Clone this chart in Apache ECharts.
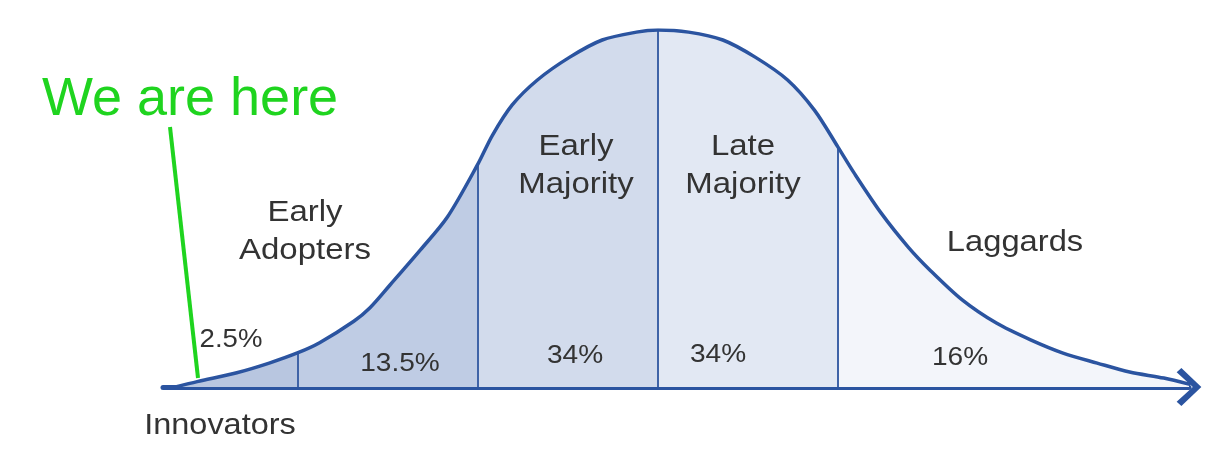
<!DOCTYPE html>
<html>
<head>
<meta charset="utf-8">
<script src="https://cdn.jsdelivr.net/npm/echarts@6/dist/echarts.min.js"></script>
<style>
  html, body { margin: 0; padding: 0; background: #ffffff; }
  #chart { width: 1211px; height: 449px; }
</style>
</head>
<body>
<div id="chart"></div>
<script>
// Adoption curve, x in standard deviations from the mean, y as % of peak height
const curveX = [-2.68, -2.56, -2.34, -2.16, -2.0, -1.88, -1.69, -1.6, -1.49, -1.32, -1.17, -1.0, -0.92, -0.81, -0.67, -0.49, -0.31, -0.12, 0, 0.17, 0.36, 0.54, 0.72, 0.87, 1.0, 1.09, 1.24, 1.39, 1.51, 1.69, 1.88, 2.07, 2.25, 2.44, 2.62, 2.81, 2.95];
const curveY = [0, 1.5, 4.0, 6.7, 9.6, 12.4, 18.4, 22.2, 28.5, 38.4, 47.6, 62.5, 70.5, 79.0, 86.0, 92.4, 97.2, 99.4, 100, 99.4, 97.2, 92.4, 86.0, 77.5, 67.2, 59.9, 48.7, 39.2, 32.8, 24.4, 17.9, 13.2, 9.5, 6.7, 4.2, 2.5, 0.8];
const segments = ['Innovators', 'Early Adopters', 'Early Majority', 'Late Majority', 'Laggards'];
const shares = ['2.5%', '13.5%', '34%', '34%', '16%'];
const dividers = [-2, -1, 0, 1];

const FILLS = ['#b8c6e0', '#bfcce4', '#d2dbec', '#e2e8f3', '#f3f5fa'];
const LINE = '#2b54a0';
const DIV = '#3f63a7';
const TEXT = '#333333';
const FONT = '"Liberation Sans", Arial, Helvetica, sans-serif';

const pts = curveX.map((x, i) => [x, curveY[i]]);
const bounds = [curveX[0]].concat(dividers, [curveX[curveX.length - 1]]);

const series = [];
segments.forEach((name, i) => {
  const lo = bounds[i], hi = bounds[i + 1];
  series.push({
    name: name,
    type: 'line',
    data: pts.filter(p => p[0] >= lo - 1e-9 && p[0] <= hi + 1e-9),
    smooth: 0.3,
    showSymbol: false,
    silent: true,
    lineStyle: { width: 0 },
    areaStyle: { color: FILLS[i], opacity: 1 },
    z: 1
  });
});
dividers.forEach(d => {
  const idx = curveX.indexOf(d);
  series.push({
    type: 'line',
    data: [[d, 0], [d, curveY[idx]]],
    showSymbol: false,
    silent: true,
    lineStyle: { width: 2, color: DIV },
    z: 2
  });
});
series.push({
  name: 'Adoption',
  type: 'line',
  data: pts,
  smooth: 0.3,
  showSymbol: false,
  silent: true,
  lineStyle: { width: 3.5, color: LINE, cap: 'round' },
  z: 3
});

function label(text, x, y, size, sx) {
  return {
    type: 'text',
    x: x, y: y,
    scaleX: sx,
    z: 100,
    style: {
      text: text,
      x: 0, y: 0,
      font: size + 'px ' + FONT,
      fill: TEXT,
      align: 'center',
      verticalAlign: 'middle',
      lineHeight: 38
    }
  };
}

const graphics = [
  label(segments[1].replace(' ', '\n'), 305, 232, 30, 1.1),
  label(segments[2].replace(' ', '\n'), 576, 166, 30, 1.1),
  label(segments[3].replace(' ', '\n'), 743, 166, 30, 1.1),
  label(segments[4], 1015, 243, 30, 1.09),
  label(segments[0], 220, 426, 29, 1.12),
  label(shares[0], 231, 340, 26, 1.06),
  label(shares[1], 400, 364, 26, 1.08),
  label(shares[2], 575, 356, 26, 1.08),
  label(shares[3], 718, 355, 26, 1.08),
  label(shares[4], 960, 358, 26, 1.08),
  {
    type: 'text', x: 42, y: 100, z: 100,
    style: { text: 'We are here', x: 0, y: 0, font: '54px ' + FONT, fill: '#1fd41f', align: 'left', verticalAlign: 'middle' }
  },
  {
    type: 'line', z: 100,
    shape: { x1: 170, y1: 127, x2: 198, y2: 378 },
    style: { stroke: '#1fd41f', lineWidth: 4 }
  }
];

const chart = echarts.init(document.getElementById('chart'), null, { renderer: 'canvas' });
chart.setOption({
  animation: false,
  backgroundColor: '#ffffff',
  grid: { left: 163, right: 22, top: 30, bottom: 62 },
  xAxis: {
    type: 'value',
    min: -2.75,
    max: 2.95,
    axisLine: {
      show: true,
      onZero: false,
      symbol: ['none', 'path://M20,0 L40,21 L35.5,26 L20,9 L4.5,26 L0,21 Z'],
      symbolSize: [38, 25],
      lineStyle: { color: LINE, width: 5, cap: 'round' }
    },
    axisTick: { show: false },
    axisLabel: { show: false },
    splitLine: { show: false }
  },
  yAxis: {
    type: 'value',
    min: 0,
    max: 100,
    show: false,
    splitLine: { show: false }
  },
  series: series,
  graphic: graphics
});
</script>
</body>
</html>
